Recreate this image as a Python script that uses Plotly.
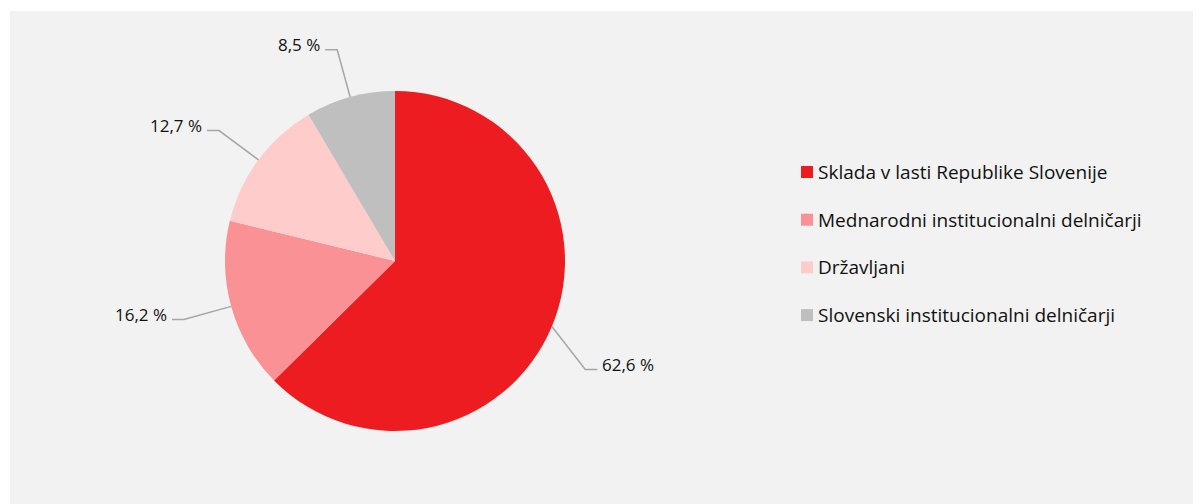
import math
import plotly.graph_objects as go

# ---- data ----
categories = [
    "Sklada v lasti Republike Slovenije",
    "Mednarodni institucionalni delničarji",
    "Državljani",
    "Slovenski institucionalni delničarji",
]
shares = [62.6, 16.2, 12.7, 8.5]

# ---- style ----
colors = ["#ED1C20", "#F99195", "#FFCCCC", "#BFBFBF"]
OFF = 8                              # page body margin of the html page
W, H = 1201, 504
CX, CY, R = 395 - OFF, 261 - OFF, 170   # pie centre / radius in pixels
R_ELBOW = 219                        # leader-line elbow radius
ANGLE_NUDGE = [7.0, 0.0, 0.0, 0.0]   # label angular nudge (deg)
HSEG = 12                            # horizontal leader segment
FONT = "Open Sans"
LABEL_SIZE = 17
LEGEND_SIZE = 19
TXT = "#111111"
LINE = "#A6A6A6"


def px(x):
    return x / W


def py(y):
    return 1 - y / H


fig = go.Figure()
fig.add_trace(go.Pie(
    labels=categories,
    values=shares,
    sort=False,
    direction="clockwise",
    rotation=0,
    marker=dict(colors=colors, line=dict(width=0)),
    textinfo="none",
    hoverinfo="label+percent",
    showlegend=False,
    domain=dict(x=[px(CX - R), px(CX + R)], y=[py(CY + R), py(CY - R)]),
))

shapes = [dict(type="rect", xref="paper", yref="paper", x0=px(10 - OFF), x1=1,
               y0=0, y1=py(11 - OFF), fillcolor="#F2F2F2", line=dict(width=0),
               layer="below")]
annotations = []

total = sum(shares)
cum = 0.0
for i, v in enumerate(shares):
    mid = (cum + v / 2) / total * 360
    cum += v
    a = math.radians(mid)
    sx, sy = CX + R * math.sin(a), CY - R * math.cos(a)
    b = math.radians(mid + ANGLE_NUDGE[i])
    ex, ey = CX + R_ELBOW * math.sin(b), CY - R_ELBOW * math.cos(b)
    side = 1 if math.sin(b) > 0 else -1
    hx = ex + side * HSEG
    shapes.append(dict(type="path", xref="paper", yref="paper",
                       path=f"M {px(sx)},{py(sy)} L {px(ex)},{py(ey)} L {px(hx)},{py(ey)}",
                       line=dict(color=LINE, width=1.5)))
    label = f"{v:.1f}".replace(".", ",") + " %"
    annotations.append(dict(xref="paper", yref="paper", x=px(hx + side * 3), y=py(ey - 5),
                            text=label, showarrow=False,
                            xanchor="left" if side > 0 else "right", yanchor="middle",
                            font=dict(family=FONT, size=LABEL_SIZE, color=TXT)))

# ---- manual legend ----
LEG_X, LEG_Y0, LEG_DY, SQ = 801 - OFF, 172 - OFF, 47.7, 12
for i, (c, col) in enumerate(zip(categories, colors)):
    yc = LEG_Y0 + i * LEG_DY
    shapes.append(dict(type="rect", xref="paper", yref="paper",
                       x0=px(LEG_X), x1=px(LEG_X + SQ), y0=py(yc + SQ / 2), y1=py(yc - SQ / 2),
                       fillcolor=col, line=dict(width=0)))
    annotations.append(dict(xref="paper", yref="paper", x=px(LEG_X + SQ + 3), y=py(yc),
                            text=c, showarrow=False, xanchor="left", yanchor="middle",
                            font=dict(family=FONT, size=LEGEND_SIZE, color=TXT)))

fig.update_layout(
    width=W, height=H,
    margin=dict(l=0, r=0, t=0, b=0),
    paper_bgcolor="white",
    plot_bgcolor="white",
    shapes=shapes,
    annotations=annotations,
    showlegend=False,
)

fig.write_html("out.html")
